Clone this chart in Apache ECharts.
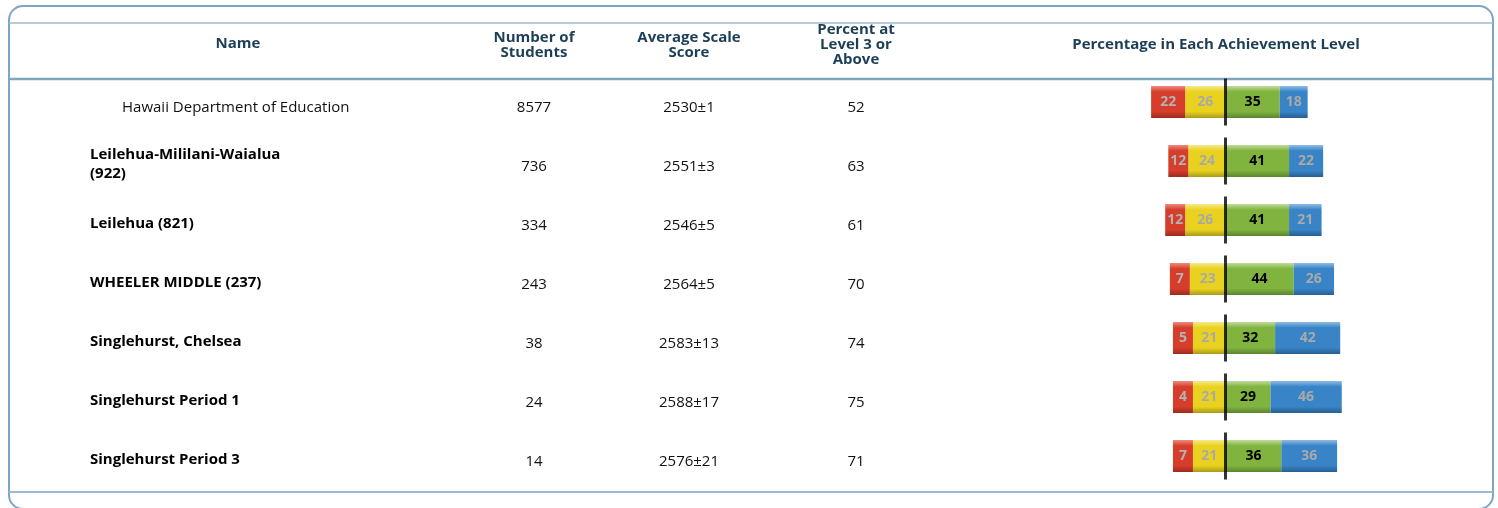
<!DOCTYPE html>
<html>
<head>
<meta charset="utf-8">
<script src="https://cdn.jsdelivr.net/npm/echarts@6/dist/echarts.min.js"></script>
<style>
  html, body { margin: 0; padding: 0; background: #fff; }
  #chart { width: 1498px; height: 508px; }
</style>
</head>
<body>
<div id="chart"></div>
<script>
const names = ['Hawaii Department of Education', 'Leilehua-Mililani-Waialua\n(922)', 'Leilehua (821)', 'WHEELER MIDDLE (237)', 'Singlehurst, Chelsea', 'Singlehurst Period 1', 'Singlehurst Period 3']
const students = ['8577', '736', '334', '243', '38', '24', '14']
const scores = ['2530±1', '2551±3', '2546±5', '2564±5', '2583±13', '2588±17', '2576±21']
const pctAbove = ['52', '63', '61', '70', '74', '75', '71']
const level1 = [22, 12, 12, 7, 5, 4, 7]
const level2 = [26, 24, 26, 23, 21, 21, 21]
const level3 = [35, 41, 41, 44, 32, 29, 36]
const level4 = [18, 22, 21, 26, 42, 46, 36]

const FONT = 'Open Sans'
const HEAD = '#1c3f57'
const BORDER = '#7fa6c0'

const grad = (light, base, dark) => new echarts.graphic.LinearGradient(0, 0, 0, 1, [
  { offset: 0, color: light },
  { offset: 0.18, color: base },
  { offset: 0.8, color: base },
  { offset: 1, color: dark }
])

const barLabel = (color) => ({
  show: true,
  position: 'inside',
  fontFamily: FONT,
  fontWeight: 'bold',
  fontSize: 14,
  color: color,
  formatter: (p) => Math.abs(p.value)
})

const textAxis = (offset, arr, align) => ({
  type: 'category',
  gridIndex: 1,
  inverse: true,
  data: names,
  position: 'left',
  offset: offset,
  axisLine: { show: false },
  axisTick: { show: false },
  splitLine: { show: false },
  axisLabel: {
    margin: 0,
    align: align,
    fontFamily: FONT,
    fontSize: 15,
    color: '#111',
    formatter: (v, i) => arr[i]
  }
})

const nameAxis = textAxis(1010, names, 'left')
nameAxis.axisLabel.formatter = (v, i) => {
  if (i === 0) return '{reg|' + v + '}'
  return v.split('\n').map(s => '{b|' + s + '}').join('\n')
}
nameAxis.axisLabel.rich = {
  reg: { fontFamily: FONT, fontSize: 15, color: '#111', padding: [0, 0, 0, 32] },
  b: { fontFamily: FONT, fontSize: 15, fontWeight: 'bold', color: '#000', lineHeight: 19, padding: [0, 0, 5, 0] }
}

// header cell, x/y = centre of the text block
const header = (x, y, lines) => ({
  type: 'text',
  x: x,
  y: y,
  style: {
    text: lines,
    textAlign: 'center',
    textVerticalAlign: 'middle',
    verticalAlign: 'middle',
    fontFamily: FONT,
    fontWeight: 'bold',
    fontSize: 15,
    lineHeight: 15,
    fill: HEAD
  }
})

const chart = echarts.init(document.getElementById('chart'))
chart.setOption({
  animation: false,
  grid: [
    { left: 1132.5, right: 148.5, top: 72.5, height: 413 },
    { left: 1100, right: 100, top: 78.5, height: 413 }
  ],
  xAxis: [
    { type: 'value', gridIndex: 0, min: -60, max: 80, show: false },
    { type: 'value', gridIndex: 1, min: 0, max: 1, show: false }
  ],
  yAxis: [
    { type: 'category', gridIndex: 0, inverse: true, data: names, show: false },
    nameAxis,
    textAxis(566, students, 'center'),
    textAxis(411, scores, 'center'),
    textAxis(244, pctAbove, 'center')
  ],
  graphic: [
    { type: 'rect', shape: { x: 9, y: 6, width: 1484, height: 503, r: 14 }, style: { fill: 'none', stroke: BORDER, lineWidth: 2 } },
    { type: 'line', shape: { x1: 9, y1: 23, x2: 1493, y2: 23 }, style: { stroke: '#9dbbcf', lineWidth: 1.5 } },
    { type: 'line', shape: { x1: 9, y1: 79, x2: 1493, y2: 79 }, style: { stroke: BORDER, lineWidth: 2.5 } },
    { type: 'line', shape: { x1: 9, y1: 492, x2: 1493, y2: 492 }, style: { stroke: '#9dbbcf', lineWidth: 2 } },
    header(238, 44, 'Name'),
    header(534, 45, 'Number of\nStudents'),
    header(689, 45, 'Average Scale\nScore'),
    header(856, 45, 'Percent at\nLevel 3 or\nAbove'),
    header(1216, 45, 'Percentage in Each Achievement Level')
  ],
  series: [
    {
      name: 'Level 2', type: 'bar', stack: 'lvl', barWidth: 32,
      data: level2.map(v => -v),
      itemStyle: { color: grad('#f6e98a', '#e9d21f', '#a99a1a') },
      label: barLabel('#a9a9a9')
    },
    {
      name: 'Level 1', type: 'bar', stack: 'lvl', barWidth: 32, barMinHeight: 20,
      data: level1.map(v => -v),
      itemStyle: { color: grad('#ee8c7c', '#d73d2b', '#9a2c20') },
      label: barLabel('#b3b3b3')
    },
    {
      name: 'Level 3', type: 'bar', stack: 'lvl', barWidth: 32,
      data: level3,
      itemStyle: { color: grad('#c2dc9c', '#80b43f', '#5b8330') },
      label: barLabel('#000')
    },
    {
      name: 'Level 4', type: 'bar', stack: 'lvl', barWidth: 32,
      data: level4,
      itemStyle: { color: grad('#8fbde6', '#3884c7', '#285f92') },
      label: barLabel('#a9a9a9')
    },
    {
      name: 'Divider', type: 'scatter', symbol: 'rect', symbolSize: [3, 47], z: 5,
      data: names.map((n, i) => [0, i]),
      itemStyle: { color: '#000' },
      silent: true
    }
  ]
})
</script>
</body>
</html>
